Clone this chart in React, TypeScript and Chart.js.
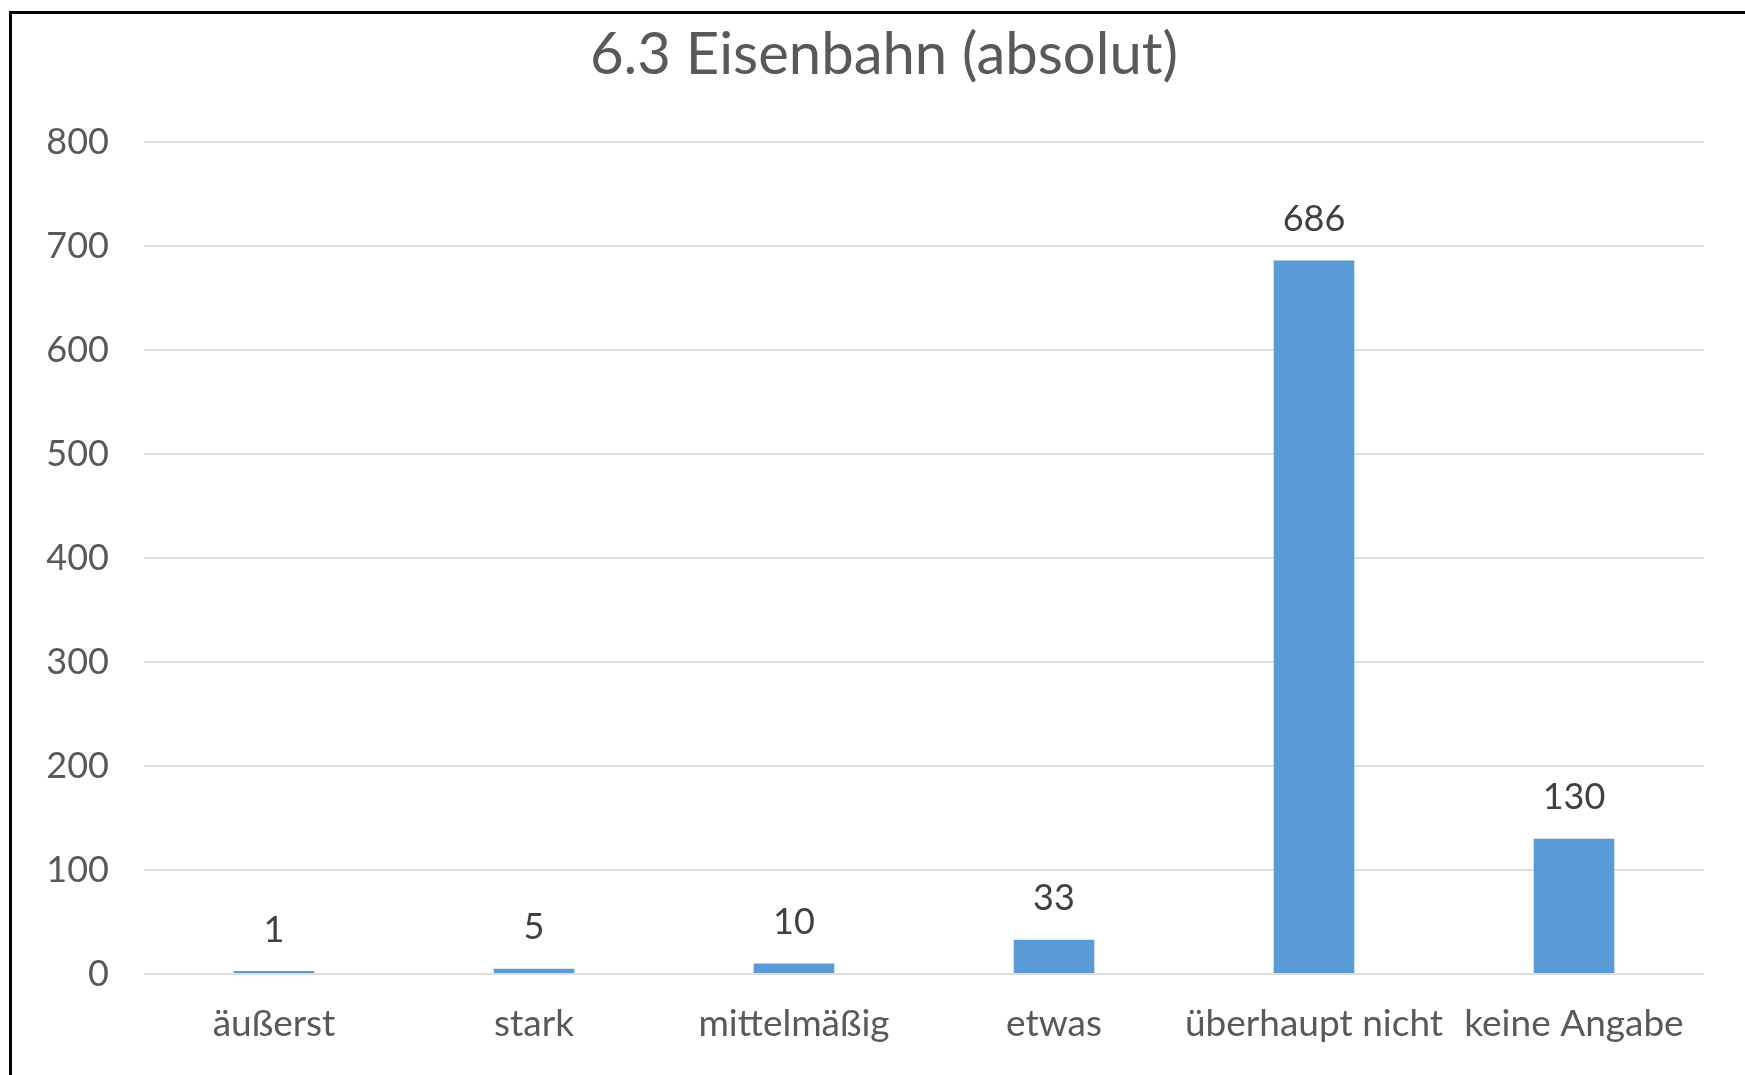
import React, { useEffect, useRef } from "react";
import { Chart, registerables } from "chart.js";

Chart.register(...registerables);

const categories = ["äußerst", "stark", "mittelmäßig", "etwas", "überhaupt nicht", "keine Angabe"];
const counts = [1, 5, 10, 33, 686, 130];
const yTicks = [0, 100, 200, 300, 400, 500, 600, 700, 800];
const titleText = "6.3 Eisenbahn (absolut)";

const FONT = "Lato, 'Open Sans', sans-serif";

const valueLabels = {
  id: "valueLabels",
  afterDatasetsDraw(chart: any) {
    const ctx = chart.ctx;
    const meta = chart.getDatasetMeta(0);
    ctx.save();
    ctx.font = `36px ${FONT}`;
    ctx.fillStyle = "#404040";
    ctx.textAlign = "center";
    ctx.textBaseline = "middle";
    meta.data.forEach((bar: any, i: number) => {
      ctx.fillText(String(chart.data.datasets[0].data[i]), bar.x, bar.y - 41);
    });
    ctx.restore();
  },
};

const chartTitle = {
  id: "chartTitle",
  afterDraw(chart: any) {
    const ctx = chart.ctx;
    ctx.save();
    ctx.font = `58px ${FONT}`;
    ctx.fillStyle = "#595959";
    ctx.textAlign = "center";
    ctx.textBaseline = "middle";
    ctx.fillText(titleText, 884, 55);
    ctx.restore();
  },
};

export default function App() {
  const ref = useRef<HTMLCanvasElement>(null);
  useEffect(() => {
    if (!ref.current) return;
    const chart = new Chart(ref.current, {
      type: "bar",
      data: {
        labels: categories,
        datasets: [
          {
            data: counts,
            backgroundColor: "#5B9BD5",
            barPercentage: 0.31,
            categoryPercentage: 1,
            minBarLength: 3,
          },
        ],
      },
      options: {
        responsive: false,
        animation: false,
        layout: { padding: { left: 0, right: 41, top: 142, bottom: 0 } },
        plugins: {
          legend: { display: false },
          tooltip: { enabled: false },
          title: { display: false },
        },
        scales: {
          x: {
            grid: { display: false, drawTicks: false },
            border: { display: false },
            ticks: {
              color: "#595959",
              font: { family: FONT, size: 37 },
              padding: 28,
              maxRotation: 0,
              autoSkip: false,
            },
            afterFit(scale: any) {
              scale.height = 101;
            },
          },
          y: {
            min: 0,
            max: 800,
            afterBuildTicks(scale: any) {
              scale.ticks = yTicks.map((v) => ({ value: v }));
            },
            grid: { color: "#dedede", lineWidth: 2, drawTicks: false },
            border: { display: false },
            ticks: {
              color: "#595959",
              font: { family: FONT, size: 36 },
              padding: 35,
            },
            afterFit(scale: any) {
              scale.width = 144;
            },
          },
        },
      },
      plugins: [valueLabels, chartTitle],
    });
    return () => chart.destroy();
  }, []);

  return (
    <div style={{ position: "fixed", left: 0, top: 0, width: 1745, height: 1075, background: "#fff" }}>
      <canvas ref={ref} width={1745} height={1075} style={{ position: "absolute", left: 0, top: 0 }} />
      <div
        style={{
          position: "absolute",
          left: 9,
          top: 11,
          width: 1745,
          height: 1075,
          borderLeft: "3px solid #000",
          borderTop: "3px solid #000",
          boxSizing: "border-box",
          pointerEvents: "none",
        }}
      />
    </div>
  );
}
